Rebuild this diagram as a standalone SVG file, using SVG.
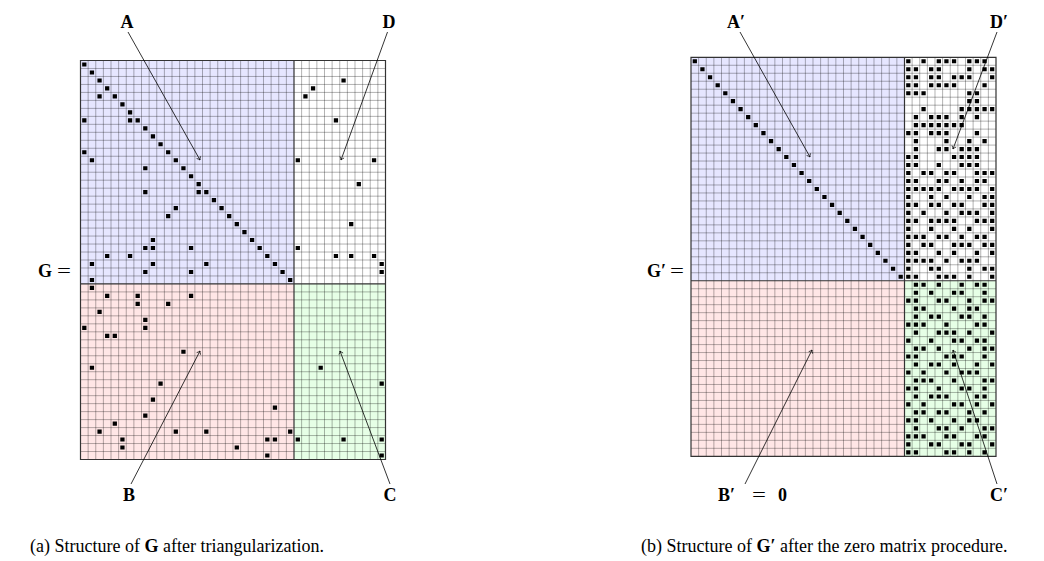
<svg xmlns="http://www.w3.org/2000/svg" xmlns:xlink="http://www.w3.org/1999/xlink" width="1044" height="561" viewBox="0 0 1044 561">
<style>
.lbl{font-family:"Liberation Serif","Times New Roman",serif;font-weight:bold;font-size:18px;fill:#000}
.eq{font-family:"Liberation Serif","Times New Roman",serif;font-size:19px;fill:#000}
.cap{font-family:"Liberation Serif","Times New Roman",serif;font-size:18px;fill:#000}
.grid{fill:none;stroke:#000;stroke-opacity:0.3;stroke-width:1}
.bnd{fill:none;stroke:#333;stroke-width:1.2}
.sq{fill:#000}
.conn{fill:none;stroke:#000;stroke-width:0.8}
</style>
<defs>
<marker id="tip" markerUnits="userSpaceOnUse" markerWidth="8" markerHeight="8" viewBox="-4 -4 8 8" refX="0" refY="0" orient="auto">
<path d="M-3,-2.2 Q-1.2,-0.5 0,0 Q-1.2,0.5 -3,2.2" fill="none" stroke="#000" stroke-width="0.7"/>
</marker>
<path id="gridlines" vector-effect="non-scaling-stroke" class="grid" d="M1 0V50M2 0V50M3 0V50M4 0V50M5 0V50M6 0V50M7 0V50M8 0V50M9 0V50M10 0V50M11 0V50M12 0V50M13 0V50M14 0V50M15 0V50M16 0V50M17 0V50M18 0V50M19 0V50M20 0V50M21 0V50M22 0V50M23 0V50M24 0V50M25 0V50M26 0V50M27 0V50M29 0V50M30 0V50M31 0V50M32 0V50M33 0V50M34 0V50M35 0V50M36 0V50M37 0V50M38 0V50M39 0V50M0 1H40M0 2H40M0 3H40M0 4H40M0 5H40M0 6H40M0 7H40M0 8H40M0 9H40M0 10H40M0 11H40M0 12H40M0 13H40M0 14H40M0 15H40M0 16H40M0 17H40M0 18H40M0 19H40M0 20H40M0 21H40M0 22H40M0 23H40M0 24H40M0 25H40M0 26H40M0 27H40M0 29H40M0 30H40M0 31H40M0 32H40M0 33H40M0 34H40M0 35H40M0 36H40M0 37H40M0 38H40M0 39H40M0 40H40M0 41H40M0 42H40M0 43H40M0 44H40M0 45H40M0 46H40M0 47H40M0 48H40M0 49H40"/>
<path id="bounds" vector-effect="non-scaling-stroke" class="bnd" d="M28 0V50M0 28H40M0 0H40V50H0Z"/>
</defs>
<rect width="1044" height="561" fill="#fff"/>

<g id="matrixG" transform="translate(80.5,60.5) scale(7.625,7.98)">
<rect x="0" y="0" width="28" height="28" fill="#e6e6ff"/>
<rect x="28" y="0" width="12" height="28" fill="#ffffff"/>
<rect x="0" y="28" width="28" height="22" fill="#ffe6e6"/>
<rect x="28" y="28" width="12" height="22" fill="#e6ffe6"/>
<use xlink:href="#gridlines"/>
<use xlink:href="#bounds"/>
<path class="sq" d="M0.22 0.24h.56v.52h-.56zM1.22 1.24h.56v.52h-.56zM2.22 2.24h.56v.52h-.56zM3.22 3.24h.56v.52h-.56zM2.22 4.24h.56v.52h-.56zM4.22 4.24h.56v.52h-.56zM5.22 5.24h.56v.52h-.56zM6.22 6.24h.56v.52h-.56zM0.22 7.24h.56v.52h-.56zM6.22 7.24h.56v.52h-.56zM7.22 7.24h.56v.52h-.56zM8.22 8.24h.56v.52h-.56zM9.22 9.24h.56v.52h-.56zM10.22 10.24h.56v.52h-.56zM0.22 11.24h.56v.52h-.56zM11.22 11.24h.56v.52h-.56zM1.22 12.24h.56v.52h-.56zM12.22 12.24h.56v.52h-.56zM8.22 13.24h.56v.52h-.56zM13.22 13.24h.56v.52h-.56zM14.22 14.24h.56v.52h-.56zM15.22 15.24h.56v.52h-.56zM8.22 16.24h.56v.52h-.56zM15.22 16.24h.56v.52h-.56zM16.22 16.24h.56v.52h-.56zM17.22 17.24h.56v.52h-.56zM12.22 18.24h.56v.52h-.56zM18.22 18.24h.56v.52h-.56zM11.22 19.24h.56v.52h-.56zM19.22 19.24h.56v.52h-.56zM20.22 20.24h.56v.52h-.56zM21.22 21.24h.56v.52h-.56zM9.22 22.24h.56v.52h-.56zM22.22 22.24h.56v.52h-.56zM8.22 23.24h.56v.52h-.56zM9.22 23.24h.56v.52h-.56zM14.22 23.24h.56v.52h-.56zM23.22 23.24h.56v.52h-.56zM3.22 24.24h.56v.52h-.56zM6.22 24.24h.56v.52h-.56zM24.22 24.24h.56v.52h-.56zM1.22 25.24h.56v.52h-.56zM9.22 25.24h.56v.52h-.56zM16.22 25.24h.56v.52h-.56zM25.22 25.24h.56v.52h-.56zM8.22 26.24h.56v.52h-.56zM14.22 26.24h.56v.52h-.56zM26.22 26.24h.56v.52h-.56zM1.22 27.24h.56v.52h-.56zM27.22 27.24h.56v.52h-.56zM34.22 2.24h.56v.52h-.56zM30.22 3.24h.56v.52h-.56zM29.22 4.24h.56v.52h-.56zM33.22 7.24h.56v.52h-.56zM28.22 12.24h.56v.52h-.56zM38.22 12.24h.56v.52h-.56zM36.22 15.24h.56v.52h-.56zM35.22 20.24h.56v.52h-.56zM28.22 23.24h.56v.52h-.56zM33.22 24.24h.56v.52h-.56zM35.22 24.24h.56v.52h-.56zM38.22 24.24h.56v.52h-.56zM39.22 25.24h.56v.52h-.56zM39.22 26.24h.56v.52h-.56zM1.22 28.24h.56v.52h-.56zM3.22 29.24h.56v.52h-.56zM7.22 29.24h.56v.52h-.56zM14.22 29.24h.56v.52h-.56zM7.22 30.24h.56v.52h-.56zM11.22 30.24h.56v.52h-.56zM2.22 31.24h.56v.52h-.56zM8.22 32.24h.56v.52h-.56zM0.22 33.24h.56v.52h-.56zM8.22 33.24h.56v.52h-.56zM3.22 34.24h.56v.52h-.56zM4.22 34.24h.56v.52h-.56zM13.22 36.24h.56v.52h-.56zM1.22 38.24h.56v.52h-.56zM10.22 40.24h.56v.52h-.56zM9.22 42.24h.56v.52h-.56zM25.22 43.24h.56v.52h-.56zM8.22 44.24h.56v.52h-.56zM4.22 45.24h.56v.52h-.56zM2.22 46.24h.56v.52h-.56zM12.22 46.24h.56v.52h-.56zM16.22 46.24h.56v.52h-.56zM27.22 46.24h.56v.52h-.56zM5.22 47.24h.56v.52h-.56zM24.22 47.24h.56v.52h-.56zM25.22 47.24h.56v.52h-.56zM5.22 48.24h.56v.52h-.56zM20.22 48.24h.56v.52h-.56zM24.22 49.24h.56v.52h-.56zM31.22 38.24h.56v.52h-.56zM39.22 40.24h.56v.52h-.56zM28.22 47.24h.56v.52h-.56zM34.22 47.24h.56v.52h-.56zM39.22 47.24h.56v.52h-.56zM39.22 49.24h.56v.52h-.56z"/>
</g>

<g id="matrixGp" transform="translate(691,57.3) scale(7.625,7.98)">
<rect x="0" y="0" width="28" height="28" fill="#e6e6ff"/>
<rect x="28" y="0" width="12" height="28" fill="#ffffff"/>
<rect x="0" y="28" width="28" height="22" fill="#ffe6e6"/>
<rect x="28" y="28" width="12" height="22" fill="#e6ffe6"/>
<use xlink:href="#gridlines"/>
<use xlink:href="#bounds"/>
<path class="sq" d="M0.22 0.24h.56v.52h-.56zM1.22 1.24h.56v.52h-.56zM2.22 2.24h.56v.52h-.56zM3.22 3.24h.56v.52h-.56zM4.22 4.24h.56v.52h-.56zM5.22 5.24h.56v.52h-.56zM6.22 6.24h.56v.52h-.56zM7.22 7.24h.56v.52h-.56zM8.22 8.24h.56v.52h-.56zM9.22 9.24h.56v.52h-.56zM10.22 10.24h.56v.52h-.56zM11.22 11.24h.56v.52h-.56zM12.22 12.24h.56v.52h-.56zM13.22 13.24h.56v.52h-.56zM14.22 14.24h.56v.52h-.56zM15.22 15.24h.56v.52h-.56zM16.22 16.24h.56v.52h-.56zM17.22 17.24h.56v.52h-.56zM18.22 18.24h.56v.52h-.56zM19.22 19.24h.56v.52h-.56zM20.22 20.24h.56v.52h-.56zM21.22 21.24h.56v.52h-.56zM22.22 22.24h.56v.52h-.56zM23.22 23.24h.56v.52h-.56zM24.22 24.24h.56v.52h-.56zM25.22 25.24h.56v.52h-.56zM26.22 26.24h.56v.52h-.56zM27.22 27.24h.56v.52h-.56z"/>
<path class="sq" d="M28.22 0.24h.56v.52h-.56zM30.22 0.24h.56v.52h-.56zM32.22 0.24h.56v.52h-.56zM33.22 0.24h.56v.52h-.56zM34.22 0.24h.56v.52h-.56zM36.22 0.24h.56v.52h-.56zM37.22 0.24h.56v.52h-.56zM38.22 0.24h.56v.52h-.56zM28.22 1.24h.56v.52h-.56zM29.22 1.24h.56v.52h-.56zM31.22 1.24h.56v.52h-.56zM32.22 1.24h.56v.52h-.56zM36.22 1.24h.56v.52h-.56zM38.22 1.24h.56v.52h-.56zM39.22 1.24h.56v.52h-.56zM28.22 2.24h.56v.52h-.56zM29.22 2.24h.56v.52h-.56zM31.22 2.24h.56v.52h-.56zM32.22 2.24h.56v.52h-.56zM34.22 2.24h.56v.52h-.56zM35.22 2.24h.56v.52h-.56zM36.22 2.24h.56v.52h-.56zM39.22 2.24h.56v.52h-.56zM28.22 3.24h.56v.52h-.56zM29.22 3.24h.56v.52h-.56zM31.22 3.24h.56v.52h-.56zM32.22 3.24h.56v.52h-.56zM33.22 3.24h.56v.52h-.56zM34.22 3.24h.56v.52h-.56zM38.22 3.24h.56v.52h-.56zM28.22 4.24h.56v.52h-.56zM29.22 4.24h.56v.52h-.56zM30.22 4.24h.56v.52h-.56zM36.22 4.24h.56v.52h-.56zM37.22 4.24h.56v.52h-.56zM36.22 5.24h.56v.52h-.56zM37.22 5.24h.56v.52h-.56zM30.22 6.24h.56v.52h-.56zM35.22 6.24h.56v.52h-.56zM36.22 6.24h.56v.52h-.56zM37.22 6.24h.56v.52h-.56zM38.22 6.24h.56v.52h-.56zM39.22 6.24h.56v.52h-.56zM29.22 7.24h.56v.52h-.56zM31.22 7.24h.56v.52h-.56zM32.22 7.24h.56v.52h-.56zM33.22 7.24h.56v.52h-.56zM35.22 7.24h.56v.52h-.56zM37.22 7.24h.56v.52h-.56zM29.22 8.24h.56v.52h-.56zM30.22 8.24h.56v.52h-.56zM31.22 8.24h.56v.52h-.56zM32.22 8.24h.56v.52h-.56zM33.22 8.24h.56v.52h-.56zM34.22 8.24h.56v.52h-.56zM35.22 8.24h.56v.52h-.56zM28.22 9.24h.56v.52h-.56zM29.22 9.24h.56v.52h-.56zM31.22 9.24h.56v.52h-.56zM32.22 9.24h.56v.52h-.56zM33.22 9.24h.56v.52h-.56zM37.22 9.24h.56v.52h-.56zM29.22 10.24h.56v.52h-.56zM33.22 10.24h.56v.52h-.56zM36.22 10.24h.56v.52h-.56zM38.22 10.24h.56v.52h-.56zM29.22 11.24h.56v.52h-.56zM32.22 11.24h.56v.52h-.56zM33.22 11.24h.56v.52h-.56zM35.22 11.24h.56v.52h-.56zM36.22 11.24h.56v.52h-.56zM37.22 11.24h.56v.52h-.56zM28.22 12.24h.56v.52h-.56zM29.22 12.24h.56v.52h-.56zM34.22 12.24h.56v.52h-.56zM35.22 12.24h.56v.52h-.56zM36.22 12.24h.56v.52h-.56zM37.22 12.24h.56v.52h-.56zM28.22 13.24h.56v.52h-.56zM29.22 13.24h.56v.52h-.56zM32.22 13.24h.56v.52h-.56zM35.22 13.24h.56v.52h-.56zM36.22 13.24h.56v.52h-.56zM37.22 13.24h.56v.52h-.56zM28.22 14.24h.56v.52h-.56zM30.22 14.24h.56v.52h-.56zM31.22 14.24h.56v.52h-.56zM33.22 14.24h.56v.52h-.56zM34.22 14.24h.56v.52h-.56zM37.22 14.24h.56v.52h-.56zM38.22 14.24h.56v.52h-.56zM39.22 14.24h.56v.52h-.56zM28.22 15.24h.56v.52h-.56zM29.22 15.24h.56v.52h-.56zM32.22 15.24h.56v.52h-.56zM33.22 15.24h.56v.52h-.56zM35.22 15.24h.56v.52h-.56zM37.22 15.24h.56v.52h-.56zM38.22 15.24h.56v.52h-.56zM28.22 16.24h.56v.52h-.56zM29.22 16.24h.56v.52h-.56zM30.22 16.24h.56v.52h-.56zM31.22 16.24h.56v.52h-.56zM32.22 16.24h.56v.52h-.56zM34.22 16.24h.56v.52h-.56zM35.22 16.24h.56v.52h-.56zM36.22 16.24h.56v.52h-.56zM37.22 16.24h.56v.52h-.56zM39.22 16.24h.56v.52h-.56zM28.22 17.24h.56v.52h-.56zM31.22 17.24h.56v.52h-.56zM33.22 17.24h.56v.52h-.56zM36.22 17.24h.56v.52h-.56zM38.22 17.24h.56v.52h-.56zM39.22 17.24h.56v.52h-.56zM28.22 18.24h.56v.52h-.56zM29.22 18.24h.56v.52h-.56zM31.22 18.24h.56v.52h-.56zM32.22 18.24h.56v.52h-.56zM34.22 18.24h.56v.52h-.56zM35.22 18.24h.56v.52h-.56zM38.22 18.24h.56v.52h-.56zM39.22 18.24h.56v.52h-.56zM28.22 19.24h.56v.52h-.56zM30.22 19.24h.56v.52h-.56zM33.22 19.24h.56v.52h-.56zM35.22 19.24h.56v.52h-.56zM36.22 19.24h.56v.52h-.56zM37.22 19.24h.56v.52h-.56zM39.22 19.24h.56v.52h-.56zM28.22 20.24h.56v.52h-.56zM29.22 20.24h.56v.52h-.56zM31.22 20.24h.56v.52h-.56zM32.22 20.24h.56v.52h-.56zM33.22 20.24h.56v.52h-.56zM34.22 20.24h.56v.52h-.56zM37.22 20.24h.56v.52h-.56zM38.22 20.24h.56v.52h-.56zM39.22 20.24h.56v.52h-.56zM28.22 21.24h.56v.52h-.56zM31.22 21.24h.56v.52h-.56zM34.22 21.24h.56v.52h-.56zM36.22 21.24h.56v.52h-.56zM39.22 21.24h.56v.52h-.56zM28.22 22.24h.56v.52h-.56zM29.22 22.24h.56v.52h-.56zM30.22 22.24h.56v.52h-.56zM32.22 22.24h.56v.52h-.56zM33.22 22.24h.56v.52h-.56zM35.22 22.24h.56v.52h-.56zM37.22 22.24h.56v.52h-.56zM38.22 22.24h.56v.52h-.56zM28.22 23.24h.56v.52h-.56zM30.22 23.24h.56v.52h-.56zM31.22 23.24h.56v.52h-.56zM34.22 23.24h.56v.52h-.56zM35.22 23.24h.56v.52h-.56zM36.22 23.24h.56v.52h-.56zM38.22 23.24h.56v.52h-.56zM39.22 23.24h.56v.52h-.56zM28.22 24.24h.56v.52h-.56zM29.22 24.24h.56v.52h-.56zM32.22 24.24h.56v.52h-.56zM34.22 24.24h.56v.52h-.56zM37.22 24.24h.56v.52h-.56zM39.22 24.24h.56v.52h-.56zM28.22 25.24h.56v.52h-.56zM29.22 25.24h.56v.52h-.56zM30.22 25.24h.56v.52h-.56zM31.22 25.24h.56v.52h-.56zM33.22 25.24h.56v.52h-.56zM35.22 25.24h.56v.52h-.56zM36.22 25.24h.56v.52h-.56zM37.22 25.24h.56v.52h-.56zM28.22 26.24h.56v.52h-.56zM31.22 26.24h.56v.52h-.56zM32.22 26.24h.56v.52h-.56zM36.22 26.24h.56v.52h-.56zM38.22 26.24h.56v.52h-.56zM39.22 26.24h.56v.52h-.56zM28.22 27.24h.56v.52h-.56zM29.22 27.24h.56v.52h-.56zM32.22 27.24h.56v.52h-.56zM33.22 27.24h.56v.52h-.56zM34.22 27.24h.56v.52h-.56zM36.22 27.24h.56v.52h-.56zM39.22 27.24h.56v.52h-.56z"/>
<path class="sq" d="M29.22 28.24h.56v.52h-.56zM30.22 28.24h.56v.52h-.56zM32.22 28.24h.56v.52h-.56zM35.22 28.24h.56v.52h-.56zM37.22 28.24h.56v.52h-.56zM38.22 28.24h.56v.52h-.56zM29.22 29.24h.56v.52h-.56zM31.22 29.24h.56v.52h-.56zM34.22 29.24h.56v.52h-.56zM35.22 29.24h.56v.52h-.56zM38.22 29.24h.56v.52h-.56zM28.22 30.24h.56v.52h-.56zM29.22 30.24h.56v.52h-.56zM32.22 30.24h.56v.52h-.56zM33.22 30.24h.56v.52h-.56zM36.22 30.24h.56v.52h-.56zM38.22 30.24h.56v.52h-.56zM39.22 30.24h.56v.52h-.56zM29.22 31.24h.56v.52h-.56zM30.22 31.24h.56v.52h-.56zM34.22 31.24h.56v.52h-.56zM36.22 31.24h.56v.52h-.56zM37.22 31.24h.56v.52h-.56zM29.22 32.24h.56v.52h-.56zM31.22 32.24h.56v.52h-.56zM32.22 32.24h.56v.52h-.56zM35.22 32.24h.56v.52h-.56zM36.22 32.24h.56v.52h-.56zM38.22 32.24h.56v.52h-.56zM28.22 33.24h.56v.52h-.56zM29.22 33.24h.56v.52h-.56zM30.22 33.24h.56v.52h-.56zM33.22 33.24h.56v.52h-.56zM37.22 33.24h.56v.52h-.56zM38.22 33.24h.56v.52h-.56zM29.22 34.24h.56v.52h-.56zM32.22 34.24h.56v.52h-.56zM33.22 34.24h.56v.52h-.56zM34.22 34.24h.56v.52h-.56zM36.22 34.24h.56v.52h-.56zM39.22 34.24h.56v.52h-.56zM28.22 35.24h.56v.52h-.56zM31.22 35.24h.56v.52h-.56zM34.22 35.24h.56v.52h-.56zM35.22 35.24h.56v.52h-.56zM37.22 35.24h.56v.52h-.56zM38.22 35.24h.56v.52h-.56zM29.22 36.24h.56v.52h-.56zM30.22 36.24h.56v.52h-.56zM32.22 36.24h.56v.52h-.56zM36.22 36.24h.56v.52h-.56zM38.22 36.24h.56v.52h-.56zM39.22 36.24h.56v.52h-.56zM28.22 37.24h.56v.52h-.56zM29.22 37.24h.56v.52h-.56zM33.22 37.24h.56v.52h-.56zM34.22 37.24h.56v.52h-.56zM35.22 37.24h.56v.52h-.56zM38.22 37.24h.56v.52h-.56zM29.22 38.24h.56v.52h-.56zM31.22 38.24h.56v.52h-.56zM32.22 38.24h.56v.52h-.56zM34.22 38.24h.56v.52h-.56zM37.22 38.24h.56v.52h-.56zM39.22 38.24h.56v.52h-.56zM28.22 39.24h.56v.52h-.56zM30.22 39.24h.56v.52h-.56zM33.22 39.24h.56v.52h-.56zM35.22 39.24h.56v.52h-.56zM36.22 39.24h.56v.52h-.56zM37.22 39.24h.56v.52h-.56zM29.22 40.24h.56v.52h-.56zM30.22 40.24h.56v.52h-.56zM31.22 40.24h.56v.52h-.56zM34.22 40.24h.56v.52h-.56zM38.22 40.24h.56v.52h-.56zM39.22 40.24h.56v.52h-.56zM28.22 41.24h.56v.52h-.56zM29.22 41.24h.56v.52h-.56zM32.22 41.24h.56v.52h-.56zM35.22 41.24h.56v.52h-.56zM36.22 41.24h.56v.52h-.56zM38.22 41.24h.56v.52h-.56zM29.22 42.24h.56v.52h-.56zM31.22 42.24h.56v.52h-.56zM32.22 42.24h.56v.52h-.56zM33.22 42.24h.56v.52h-.56zM37.22 42.24h.56v.52h-.56zM38.22 42.24h.56v.52h-.56zM28.22 43.24h.56v.52h-.56zM30.22 43.24h.56v.52h-.56zM34.22 43.24h.56v.52h-.56zM35.22 43.24h.56v.52h-.56zM37.22 43.24h.56v.52h-.56zM39.22 43.24h.56v.52h-.56zM29.22 44.24h.56v.52h-.56zM30.22 44.24h.56v.52h-.56zM32.22 44.24h.56v.52h-.56zM33.22 44.24h.56v.52h-.56zM36.22 44.24h.56v.52h-.56zM38.22 44.24h.56v.52h-.56zM28.22 45.24h.56v.52h-.56zM29.22 45.24h.56v.52h-.56zM31.22 45.24h.56v.52h-.56zM34.22 45.24h.56v.52h-.56zM36.22 45.24h.56v.52h-.56zM37.22 45.24h.56v.52h-.56zM29.22 46.24h.56v.52h-.56zM32.22 46.24h.56v.52h-.56zM33.22 46.24h.56v.52h-.56zM35.22 46.24h.56v.52h-.56zM38.22 46.24h.56v.52h-.56zM39.22 46.24h.56v.52h-.56zM28.22 47.24h.56v.52h-.56zM29.22 47.24h.56v.52h-.56zM30.22 47.24h.56v.52h-.56zM33.22 47.24h.56v.52h-.56zM34.22 47.24h.56v.52h-.56zM37.22 47.24h.56v.52h-.56zM38.22 47.24h.56v.52h-.56zM28.22 48.24h.56v.52h-.56zM31.22 48.24h.56v.52h-.56zM32.22 48.24h.56v.52h-.56zM35.22 48.24h.56v.52h-.56zM36.22 48.24h.56v.52h-.56zM39.22 48.24h.56v.52h-.56zM28.22 49.24h.56v.52h-.56zM29.22 49.24h.56v.52h-.56zM33.22 49.24h.56v.52h-.56zM34.22 49.24h.56v.52h-.56zM36.22 49.24h.56v.52h-.56zM38.22 49.24h.56v.52h-.56z"/>
</g>

<g id="connectors">
<path class="conn" marker-end="url(#tip)" d="M128,32L200,160"/>
<path class="conn" marker-end="url(#tip)" d="M387.5,32L341,160"/>
<path class="conn" marker-end="url(#tip)" d="M131,484L200,351"/>
<path class="conn" marker-end="url(#tip)" d="M390,484L340,351"/>
<path class="conn" marker-end="url(#tip)" d="M740,32L810,157"/>
<path class="conn" marker-end="url(#tip)" d="M997,32L953,149"/>
<path class="conn" marker-end="url(#tip)" d="M745,484L812,350"/>
<path class="conn" marker-end="url(#tip)" d="M997,484L953,350"/>
</g>

<g id="labels">
<text class="lbl" x="127" y="28" text-anchor="middle">A</text>
<text class="lbl" x="389" y="28" text-anchor="middle">D</text>
<text class="lbl" x="129" y="501" text-anchor="middle">B</text>
<text class="lbl" x="390" y="501" text-anchor="middle">C</text>
<text class="lbl" x="38" y="277">G</text>
<text class="eq" transform="translate(57,277) scale(1.3,1)">=</text>
<text class="lbl" x="736" y="28" text-anchor="middle">A′</text>
<text class="lbl" x="999" y="28" text-anchor="middle">D′</text>
<text class="lbl" x="718" y="501">B′</text>
<text class="eq" transform="translate(752,501) scale(1.3,1)">=</text>
<text class="lbl" x="778" y="501">0</text>
<text class="lbl" x="999" y="501" text-anchor="middle">C′</text>
<text class="lbl" x="647" y="277">G′</text>
<text class="eq" transform="translate(670,277) scale(1.3,1)">=</text>
<text class="cap" x="30" y="552">(a) Structure of <tspan font-weight="bold">G</tspan> after triangularization.</text>
<text class="cap" x="641" y="552">(b) Structure of <tspan font-weight="bold">G′</tspan> after the zero matrix procedure.</text>
</g>
</svg>
